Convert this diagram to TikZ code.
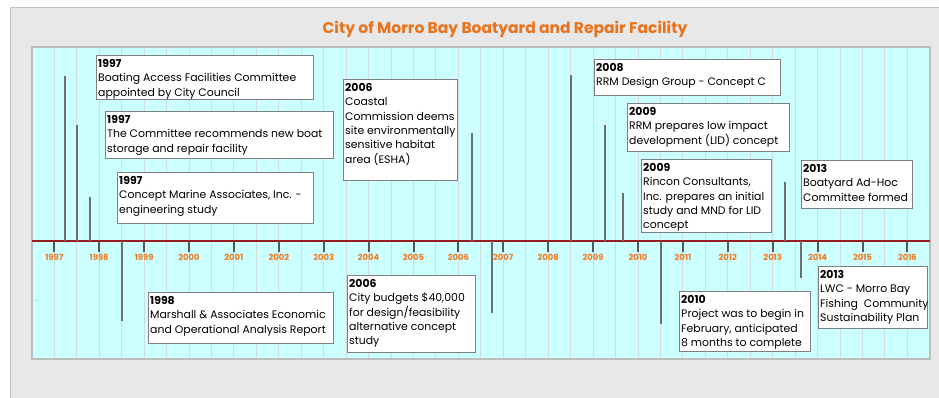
\documentclass[tikz,border=0pt]{standalone}
\usepackage{fontspec}
\setmainfont{Poppins}
\definecolor{panelgray}{HTML}{E8E8E8}
\definecolor{panelline}{HTML}{C4C4C4}
\definecolor{skycyan}{HTML}{CCFFFF}
\definecolor{cyanline}{HTML}{BDBDBD}
\definecolor{gridgray}{HTML}{D2DCDC}
\definecolor{axisred}{HTML}{9B1C1C}
\definecolor{tickgray}{HTML}{5A5A5A}
\definecolor{leadgray}{HTML}{6E6E6E}
\definecolor{boxgray}{HTML}{7F7F7F}
\definecolor{titleorange}{HTML}{E8731C}
\definecolor{yearorange}{HTML}{F47A1F}
\tikzset{
  evbox/.style={draw=boxgray, line width=1.3pt, fill=white, anchor=north west, inner sep=0pt},
  evtext/.style={anchor=north west, align=left, inner xsep=2pt, inner ysep=4.3pt, font=\fontsize{10.9}{14.3}\selectfont},
  leader/.style={draw=leadgray, line width=1.2pt},
  yeartick/.style={draw=tickgray, line width=2pt},
  yearlab/.style={text=yearorange, inner sep=0pt, font=\fontsize{8.4}{9}\selectfont\bfseries},
  gridline/.style={draw=gridgray, line width=1pt},
  titlestyle/.style={text=titleorange, inner sep=0pt, font=\fontsize{15.5}{18}\selectfont\bfseries}
}
\newcommand{\eventbox}[6]{%
  \node[evbox, minimum width=#4pt, minimum height=#5pt] (#1) at (#2,#3) {};
  \node[evtext] (#1t) at (#1.north west) {#6};}
\begin{document}
\begin{tikzpicture}[x=1pt,y=-1pt]
\useasboundingbox (0,0) rectangle (939,398);
% panel
\fill[panelgray] (10,7) rectangle (939,398);
\draw[panelline, line width=1pt] (10.5,398) -- (10.5,7.5) -- (939,7.5);
% title
\node[titlestyle] (title) at (505,29) {City of Morro Bay Boatyard and Repair Facility};
% plot area
\fill[skycyan] (32,47) rectangle (930,359);
\foreach \k in {0,...,38} {
  \pgfmathsetmacro\gx{54.3+22.45*\k}
  \coordinate (gt\k) at (\gx,47);
  \coordinate (gb\k) at (\gx,359);
  \draw[gridline] (gt\k) -- (gb\k);
}
\draw[cyanline, line width=1.2pt] (32,47) rectangle (930,359);
% axis
\coordinate (axL) at (32,241);
\coordinate (axR) at (930,241);
\draw[axisred, line width=1.3pt] (axL) -- (axR);
\foreach \i in {0,...,19} {
  \pgfmathsetmacro\yx{54.3+44.9*\i}
  \coordinate (ta\i) at (\yx,241);
  \coordinate (tb\i) at (\yx,252);
  \draw[yeartick] (ta\i) -- (tb\i);
  \node[yearlab] (yl\i) at (\yx,257.5) {\the\numexpr1997+\i\relax};
}
% leader lines
\foreach \n/\lx/\ly in {1/65/76, 2/77/125, 3/90/197, 4/122/321, 5/472/133, 6/492/313,
  7/571/75, 8/605/125, 9/623/193, 10/785/182, 11/661/324, 12/801/278} {
  \coordinate (la\n) at (\lx,241);
  \coordinate (le\n) at (\lx,\ly);
  \draw[leader] (la\n) -- (le\n);
}
% event boxes
\eventbox{b1}{96}{55}{217}{44}{\textbf{1997}\\Boating Access Facilities Committee\\appointed by City Council}
\eventbox{b2}{105}{111}{228}{47}{\textbf{1997}\\The Committee recommends new boat\\storage and repair facility}
\eventbox{b3}{117}{172}{196}{51}{\textbf{1997}\\Concept Marine Associates, Inc. -\\engineering study}
\eventbox{b4}{148}{292}{185}{51}{\textbf{1998}\\Marshall \& Associates Economic\\and Operational Analysis Report}
\eventbox{b5}{343}{79}{114}{101}{\textbf{2006}\\Coastal\\Commission deems\\site environmentally\\sensitive habitat\\area (ESHA)}
\eventbox{b6}{347}{275}{128}{77}{\textbf{2006}\\City budgets \$40,000\\for design/feasibility\\alternative concept\\study}
\eventbox{b7}{594}{59}{186}{36}{\textbf{2008}\\RRM Design Group - Concept C}
\eventbox{b8}{627}{103}{162}{48}{\textbf{2009}\\RRM prepares low impact\\development (LID) concept}
\eventbox{b9}{641}{159}{130}{73}{\textbf{2009}\\Rincon Consultants,\\Inc. prepares an initial\\study and MND for LID\\concept}
\eventbox{b10}{801}{160}{111}{48}{\textbf{2013}\\Boatyard Ad-Hoc\\Committee formed}
\eventbox{b11}{679}{291}{131}{60}{\textbf{2010}\\Project was to begin in\\February, anticipated\\8 months to complete}
\eventbox{b12}{818}{266}{109}{62}{\textbf{2013}\\LWC - Morro Bay\\Fishing~ Community\\Sustainability Plan}
% stray dot
\node[inner sep=0pt, font=\fontsize{6}{6}\selectfont] (dot) at (37,301) {.};
\end{tikzpicture}
\end{document}
